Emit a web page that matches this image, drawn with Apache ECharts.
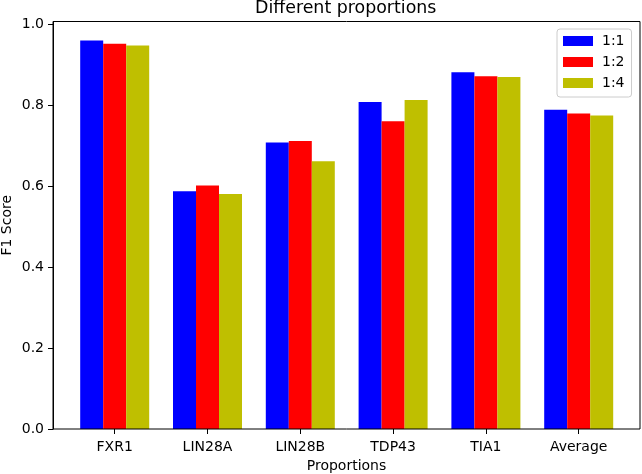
<!DOCTYPE html>
<html>
<head>
<meta charset="utf-8">
<script src="https://cdn.jsdelivr.net/npm/echarts@6/dist/echarts.min.js"></script>
<style>
html,body{margin:0;padding:0;background:#fff;}
#chart{width:642px;height:474px;}
</style>
</head>
<body>
<div id="chart"></div>
<script>
var categories = ['FXR1', 'LIN28A', 'LIN28B', 'TDP43', 'TIA1', 'Average'];
var series11 = [0.959, 0.587, 0.707, 0.807, 0.881, 0.788];
var series12 = [0.951, 0.601, 0.711, 0.760, 0.871, 0.779];
var series14 = [0.947, 0.580, 0.661, 0.812, 0.869, 0.774];
var seriesNames = ['1:1', '1:2', '1:4'];
var yTicks = [0, 0.2, 0.4, 0.6, 0.8, 1.0];

var FONT = 'DejaVu Sans';
var chart = echarts.init(document.getElementById('chart'), null, {renderer: 'canvas'});

var colors = ['#0000ff', '#ff0000', '#bfbf00'];
var data = [series11, series12, series14];

var YMAX = 1.006;
var GT = 21.5, GB = 45;

chart.setOption({
  animation: false,
  backgroundColor: '#ffffff',
  textStyle: {fontFamily: FONT},
  title: {
    text: 'Different proportions',
    left: 255,
    top: 0,
    padding: 0,
    textStyle: {fontFamily: FONT, fontSize: 17.4, fontWeight: 'normal', color: '#000'}
  },
  legend: {
    data: seriesNames,
    orient: 'vertical',
    left: 557,
    top: 29,
    padding: [5, 7, 7, 6],
    itemWidth: 30,
    itemHeight: 10,
    itemGap: 7,
    icon: 'rect',
    borderColor: '#cccccc',
    borderWidth: 1,
    borderRadius: 3,
    backgroundColor: 'rgba(255,255,255,0.8)',
    textStyle: {fontFamily: FONT, fontSize: 14, color: '#000', lineHeight: 14, padding: [0, 0, 0, 4]}
  },
  grid: [
    {
      left: 53, right: 2, top: GT, bottom: GB, outerBoundsMode: 'none', containLabel: false,
      show: true, borderColor: '#000', borderWidth: 1, backgroundColor: 'transparent', z: 5
    },
    {
      left: 68.3, right: 16.9, top: GT, bottom: GB, outerBoundsMode: 'none', containLabel: false, show: false
    }
  ],
  xAxis: [
    {
      gridIndex: 0, type: 'value', min: 0, max: 1,
      axisLine: {show: false}, axisTick: {show: false}, axisLabel: {show: false}, splitLine: {show: false},
      name: 'Proportions',
      nameLocation: 'middle',
      nameGap: 30,
      nameMoveOverlap: false,
      nameTextStyle: {fontFamily: FONT, fontSize: 14, color: '#000'}
    },
    {
      gridIndex: 1, type: 'category', data: categories, boundaryGap: true,
      axisLine: {show: false},
      axisTick: {show: true, alignWithLabel: true, length: 5, inside: false, lineStyle: {color: '#000'}},
      axisLabel: {show: true, margin: 11, fontFamily: FONT, fontSize: 14, color: '#000', interval: 0},
      splitLine: {show: false}
    }
  ],
  yAxis: [
    {
      gridIndex: 0, type: 'value', min: 0, max: YMAX,
      name: 'F1 Score',
      nameLocation: 'middle',
      nameGap: 39,
      nameRotate: 90,
      nameMoveOverlap: false,
      nameTextStyle: {fontFamily: FONT, fontSize: 14, color: '#000'},
      axisLine: {show: true, lineStyle: {color: '#000', width: 1}},
      axisTick: {show: true, length: 5, inside: false, lineStyle: {color: '#000'}, customValues: yTicks},
      axisLabel: {
        show: true, margin: 9, fontFamily: FONT, fontSize: 14, color: '#000',
        customValues: yTicks,
        formatter: function (v) { return v.toFixed(1); }
      },
      splitLine: {show: false}
    },
    {
      gridIndex: 1, type: 'value', min: 0, max: YMAX,
      axisLine: {show: false}, axisTick: {show: false}, axisLabel: {show: false}, splitLine: {show: false}
    }
  ],
  series: seriesNames.map(function (n, k) {
    return {
      name: n,
      type: 'bar',
      xAxisIndex: 1,
      yAxisIndex: 1,
      data: data[k],
      barWidth: 23,
      barGap: '0%',
      itemStyle: {color: colors[k]}
    };
  })
});
</script>
</body>
</html>
